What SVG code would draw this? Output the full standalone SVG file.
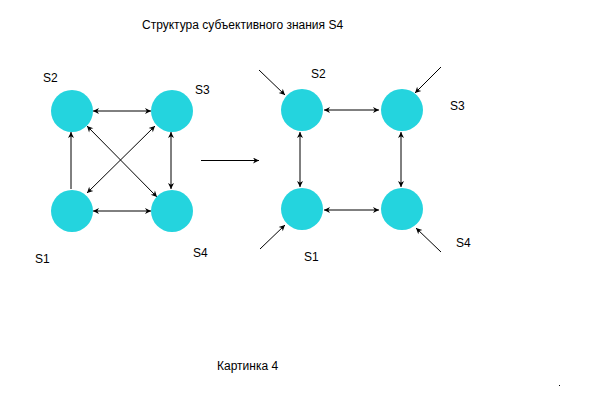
<svg xmlns="http://www.w3.org/2000/svg" width="600" height="400" viewBox="0 0 600 400">
<defs>
<style>
.node{fill:#24d4de;}
.lbl{font-family:"Liberation Sans",Arial,sans-serif;font-size:12px;fill:#000;}
.ln{stroke:#000;stroke-width:1;fill:none;}
.ar{marker-end:url(#ah);}
.dar{marker-start:url(#ahs);marker-end:url(#ah);}
</style>
<marker id="ah" viewBox="0 0 10 10" refX="10" refY="5" markerWidth="7" markerHeight="6" markerUnits="userSpaceOnUse" orient="auto">
<path d="M0,0 L10,5 L0,10 L3,5 z" fill="#000"/>
</marker>
<marker id="ahs" viewBox="0 0 10 10" refX="0" refY="5" markerWidth="7" markerHeight="6" markerUnits="userSpaceOnUse" orient="auto">
<path d="M10,0 L0,5 L10,10 L7,5 z" fill="#000"/>
</marker>
</defs>
<rect width="600" height="400" fill="#fff"/>
<text class="lbl" x="142" y="29">Структура субъективного знания S4</text>
<g id="connectors">
<line class="ln dar" x1="93" y1="111" x2="151" y2="111"/>
<line class="ln dar" x1="93" y1="211" x2="151" y2="211"/>
<line class="ln ar" x1="71" y1="189" x2="71" y2="132"/>
<line class="ln dar" x1="171" y1="132" x2="171" y2="189"/>
<line class="ln dar" x1="87" y1="126" x2="157" y2="197"/>
<line class="ln dar" x1="155" y1="126" x2="87" y2="193"/>
<line class="ln ar" x1="201" y1="160.5" x2="259" y2="160.5"/>
<line class="ln dar" x1="324" y1="110" x2="379" y2="110"/>
<line class="ln dar" x1="324" y1="210" x2="379" y2="210"/>
<line class="ln dar" x1="300" y1="132" x2="300" y2="187"/>
<line class="ln dar" x1="401" y1="132" x2="401" y2="187"/>
<line class="ln ar" x1="259" y1="70" x2="285" y2="95"/>
<line class="ln ar" x1="441" y1="67" x2="415" y2="93"/>
<line class="ln ar" x1="260" y1="249" x2="285" y2="225"/>
<line class="ln ar" x1="441" y1="252" x2="416" y2="228"/>
</g>
<g id="L-S2"><circle class="node" cx="72" cy="111" r="21"/><text class="lbl" x="43" y="82">S2</text></g>
<g id="L-S3"><circle class="node" cx="172" cy="111" r="21"/><text class="lbl" x="195" y="94">S3</text></g>
<g id="L-S1"><circle class="node" cx="72" cy="211" r="21"/><text class="lbl" x="35" y="263">S1</text></g>
<g id="L-S4"><circle class="node" cx="172" cy="211" r="21"/><text class="lbl" x="193" y="257">S4</text></g>
<g id="R-S2"><circle class="node" cx="302" cy="110" r="21"/><text class="lbl" x="311" y="78">S2</text></g>
<g id="R-S3"><circle class="node" cx="402" cy="110" r="21"/><text class="lbl" x="450" y="110">S3</text></g>
<g id="R-S1"><circle class="node" cx="302" cy="209" r="21"/><text class="lbl" x="304" y="261">S1</text></g>
<g id="R-S4"><circle class="node" cx="402" cy="209" r="21"/><text class="lbl" x="456" y="247">S4</text></g>
<text class="lbl" x="217" y="370">Картинка 4</text>
<rect x="559" y="385" width="1" height="1" fill="#000"/>
</svg>
